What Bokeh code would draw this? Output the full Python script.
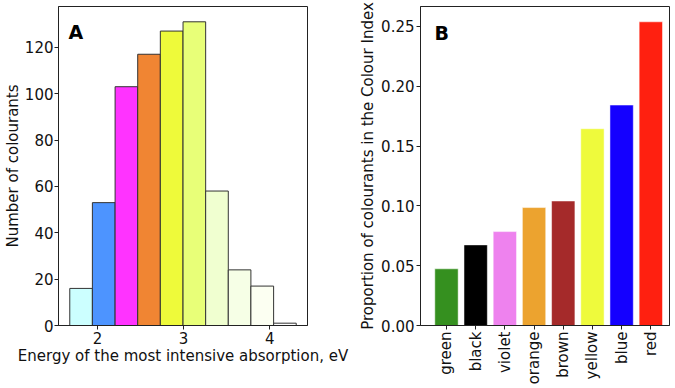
import math
from bokeh.plotting import figure
from bokeh.layouts import row
from bokeh.models import FixedTicker, Range1d, Label
from bokeh.embed import file_html
from bokeh.resources import INLINE

# Panel A: histogram of the energy of the most intensive absorption
bin_edges = [1.676, 1.939, 2.203, 2.466, 2.729, 2.993, 3.256, 3.519, 3.782, 4.046, 4.309]
bin_counts = [16, 53, 103, 117, 127, 131, 58, 24, 17, 1]
bin_colors = ["#ccffff", "#4d94ff", "#ff33ff", "#f08533", "#eefa3a",
              "#e8ff78", "#f0ffd0", "#f6ffe6", "#fcfff2", "#ffffff"]
energy_ticks = [2, 3, 4]
count_ticks = [0, 20, 40, 60, 80, 100, 120]

# Panel B: share of colourants per colour name
colour_names = ["green", "black", "violet", "orange", "brown", "yellow", "blue", "red"]
proportions = [0.0474, 0.0674, 0.0785, 0.0986, 0.1041, 0.1645, 0.1843, 0.2539]
colour_fills = ["#35901f", "#000000", "#ee82ee", "#eca32f", "#a52a2a",
                "#eefa3c", "#1400ff", "#ff2010"]
proportion_ticks = [0.0, 0.05, 0.10, 0.15, 0.20, 0.25]

FONT = "DejaVu Sans"
SIZE = "15px"


def style(p):
    p.background_fill_color = "white"
    p.border_fill_color = "white"
    p.outline_line_color = "#222222"
    p.outline_line_width = 1
    p.xgrid.visible = False
    p.ygrid.visible = False
    for ax in (p.xaxis[0], p.yaxis[0]):
        ax.axis_line_color = "#222222"
        ax.major_tick_line_color = "#222222"
        ax.minor_tick_line_color = None
        ax.major_tick_in = 0
        ax.major_tick_out = 4
        ax.major_label_text_font = FONT
        ax.major_label_text_font_size = SIZE
        ax.major_label_text_color = "#111111"
        ax.major_label_standoff = 2
        ax.axis_label_text_font = FONT
        ax.axis_label_text_font_size = SIZE
        ax.axis_label_text_font_style = "normal"
        ax.axis_label_text_color = "#111111"


left_edges = bin_edges[:-1]
right_edges = bin_edges[1:]

# panel A is a little wider than its frame so the long x label is not clipped
pa = figure(width=350, height=388, output_backend="svg", toolbar_location=None,
            x_range=Range1d(1.545, 4.44), y_range=Range1d(0, 137.6),
            min_border_left=57, min_border_right=43, min_border_top=6, min_border_bottom=63)
pa.quad(left=left_edges, right=right_edges, bottom=0, top=bin_counts,
        fill_color=bin_colors, line_color="#333333", line_width=1)
style(pa)
pa.xaxis.ticker = FixedTicker(ticks=energy_ticks)
pa.yaxis.ticker = FixedTicker(ticks=count_ticks)
pa.xaxis.axis_label = "Energy of the most intensive absorption, eV"
pa.yaxis.axis_label = "Number of colourants"
pa.xaxis.axis_label_standoff = 0
pa.yaxis.axis_label_standoff = 0
pa.yaxis.major_label_standoff = 1
pa.add_layout(Label(x=1.66, y=126.5, text="A", text_font=FONT, text_font_size="19px",
                    text_font_style="bold", text_baseline="alphabetic", text_color="black"))

xs = list(range(len(colour_names)))
pb = figure(width=325, height=388, output_backend="svg", toolbar_location=None,
            x_range=Range1d(-0.89, 7.64), y_range=Range1d(0, 0.2667),
            min_border_left=70, min_border_right=6, min_border_top=6, min_border_bottom=63)
pb.vbar(x=xs, top=proportions, bottom=0, width=0.8, fill_color=colour_fills,
        line_color="white", line_width=0.5)
style(pb)
pb.xaxis.ticker = FixedTicker(ticks=xs)
pb.xaxis.major_label_overrides = {i: n for i, n in enumerate(colour_names)}
pb.xaxis.major_label_orientation = math.pi / 2
pb.yaxis.ticker = FixedTicker(ticks=proportion_ticks)
pb.yaxis.major_label_overrides = {t: f"{t:.2f}" for t in proportion_ticks}
pb.yaxis.axis_label = "Proportion of colourants in the Colour Index"
pb.yaxis.axis_label_standoff = 1
pb.add_layout(Label(x=-0.41, y=0.2447, text="B", text_font=FONT, text_font_size="19px",
                    text_font_style="bold", text_baseline="alphabetic", text_color="black"))

layout = row(pa, pb)
open("out.html", "w").write(file_html(layout, INLINE))
